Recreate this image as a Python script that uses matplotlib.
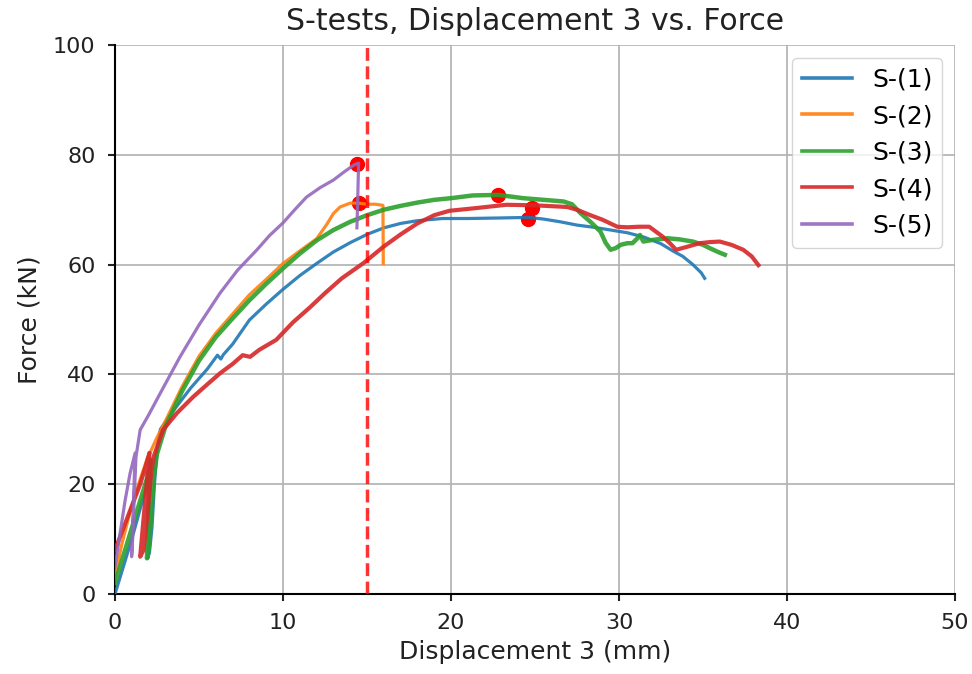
import numpy as np
import matplotlib
matplotlib.use('Agg')
import matplotlib.pyplot as plt

labels = ['S-(1)', 'S-(2)', 'S-(3)', 'S-(4)', 'S-(5)']

#S-(1)
x1 = [0, 0.5, 1.0, 1.5, 2.0, 2.15, 1.95, 2.05, 2.2, 2.35, 2.5, 2.7, 3.5, 4.5, 5.5, 6.1, 6.3, 6.45,
      7.0, 8.0, 9.0, 10.0, 11.0, 12.0, 13.0, 14.0, 15.0, 16.0, 17.0, 18.0, 19.5, 21.0, 23.0, 24.6,
      25.5, 26.5, 27.5, 28.5, 29.5, 30.5, 31.5, 32.5, 33.2, 33.8, 34.4, 34.9, 35.1]
y1 = [0, 5, 10, 15.5, 21, 24.5, 6.5, 7.5, 12, 20, 26, 30, 33.5, 37.5, 41, 43.5, 42.8, 43.6,
      45.5, 49.9, 52.8, 55.5, 58, 60.2, 62.3, 64, 65.5, 66.7, 67.5, 68.0, 68.4, 68.4, 68.5, 68.6,
      68.3, 67.8, 67.2, 66.8, 66.3, 65.8, 65, 63.8, 62.5, 61.5, 60, 58.5, 57.5]

#S-(2)
x2 = [0, 0.4, 0.9, 1.4, 1.9, 2.5, 3.0, 4.0, 5.0, 6.0, 7.0, 8.0, 9.0, 10.0, 11.0, 12.0, 12.6,
      13.0, 13.4, 14.0, 14.5, 15.0, 15.5, 15.95, 15.97]
y2 = [3, 9, 15, 20, 24.5, 28.5, 31.5, 37.8, 43.3, 47.5, 51, 54.5, 57.3, 60.2, 62.5, 64.7, 67.3,
      69.3, 70.5, 71.2, 71.2, 71.0, 71.0, 70.8, 60.2]

#S-(3)
x3 = [0, 0.5, 1.0, 1.5, 2.0, 2.1, 1.9, 2.0, 2.15, 2.3, 2.5, 3.0, 4.0, 5.0, 6.0, 7.0, 8.0, 9.0,
      10.0, 11.0, 12.0, 13.0, 14.0, 15.0, 16.0, 17.0, 18.0, 19.0, 20.0, 21.3, 22.8, 24.3, 25.5,
      26.7, 27.2, 27.7, 28.3, 28.9, 29.2, 29.5, 29.8, 30.1, 30.5, 30.8, 31.1, 31.25, 31.45, 32.0,
      32.9, 33.6, 34.4, 35.0, 35.4, 35.9, 36.3]
y3 = [2, 7, 12, 17, 22, 24.5, 6.5, 8, 14, 21, 25.5, 30.5, 37, 42.5, 46.8, 50.2, 53.5, 56.5,
      59.3, 62, 64.4, 66.3, 67.8, 69, 70, 70.7, 71.3, 71.8, 72.1, 72.6, 72.7, 72.1, 71.8,
      71.5, 71, 69.4, 67.8, 66, 64, 62.7, 63, 63.6, 63.9, 63.9, 64.8, 65.4, 64.2, 64.5,
      64.8, 64.6, 64.2, 63.6, 63, 62.3, 61.8]

#S-(4)
x4 = [0, 0.5, 1.0, 1.5, 1.8, 2.05, 1.5, 1.7, 1.95, 2.15, 2.3, 2.86, 3.7, 4.65, 5.5, 6.25, 7.0,
      7.6, 8.04, 8.6, 9.6, 10.6, 11.6, 12.5, 13.5, 14.8, 16.0, 17.0, 18.0, 19.0, 19.9, 21.5,
      23.3, 25.0, 26.9, 27.5, 28.3, 29.0, 29.9, 30.5, 31.2, 31.8, 32.2, 32.6, 33.0, 33.4, 34.0,
      34.8, 35.4, 36.0, 36.7, 37.4, 37.9, 38.3]
y4 = [8, 12, 16, 20, 23, 25.7, 6.8, 8, 15, 22, 25, 29.9, 33, 35.9, 38.2, 40.2, 41.9,
      43.5, 43.2, 44.5, 46.3, 49.5, 52.2, 54.8, 57.5, 60.3, 63.3, 65.5, 67.5, 69, 69.8, 70.3,
      70.9, 70.8, 70.5, 70, 69, 68.2, 66.9, 66.8, 66.9, 66.9, 66, 65.1, 64, 62.7, 63.2,
      63.9, 64.1, 64.2, 63.6, 62.7, 61.5, 59.9]

#S-(5)
x5 = [0, 0.3, 0.6, 0.9, 1.2, 0.99, 1.05, 1.15, 1.25, 1.5, 2.0, 2.7, 3.87, 5.0, 6.25, 7.3,
      8.45, 9.2, 10.0, 10.7, 11.4, 12.2, 13.0, 13.6, 14.2, 14.5, 14.45, 14.4]
y5 = [5, 11, 17, 22, 25.7, 6.8, 10, 18, 25, 29.9, 32.6, 36.6, 43.2, 49, 54.8, 59,
      62.7, 65.3, 67.6, 70, 72.3, 74, 75.4, 76.8, 78.1, 78.5, 72, 66.7]

#max force points
peak_x = [24.6, 14.5, 22.8, 24.8, 14.4]
peak_y = [68.3, 71.2, 72.7, 70.4, 78.4]

limit_x = 15.0

xs = [x1, x2, x3, x4, x5]
ys = [y1, y2, y3, y4, y5]
widths = [2.3, 2.3, 3.2, 3.0, 2.3]

fig = plt.figure(figsize=(9.72, 6.74), dpi=100)
ax = fig.add_axes([0.1183, 0.1187, 0.8642, 0.8145])

ax.plot(peak_x, peak_y, 'o', color='red', ms=10, zorder=3)
for i in range(len(xs)):
    ax.plot(xs[i], ys[i], lw=widths[i], label=labels[i], zorder=3, alpha=0.9)
ax.axvline(limit_x, color='red', ls='--', lw=2.5, alpha=0.8, zorder=5)

ax.set_xlim(0, 50)
ax.set_ylim(0, 100)
ax.set_xticks(np.arange(0, 51, 10))
ax.set_yticks(np.arange(0, 101, 20))
ax.grid(True, color='#b0b0b0', lw=1.2)
ax.set_axisbelow(True)
ax.spines['top'].set_visible(False)
ax.spines['right'].set_visible(False)
ax.spines['left'].set_linewidth(1.5)
ax.spines['bottom'].set_linewidth(1.5)
ax.tick_params(labelsize=16, width=1.5, length=5, pad=9, colors='#222222')

ax.set_title('S-tests, Displacement 3 vs. Force', fontsize=21.5, color='#222222', pad=11)
ax.set_xlabel('Displacement 3 (mm)', fontsize=18, color='#222222', labelpad=5)
ax.set_ylabel('Force (kN)', fontsize=18, color='#222222', labelpad=8)
leg = ax.legend(loc='upper right', fontsize=18)
for h in leg.get_lines():
    h.set_linewidth(2.6)

plt.savefig('out.png', dpi=100)
